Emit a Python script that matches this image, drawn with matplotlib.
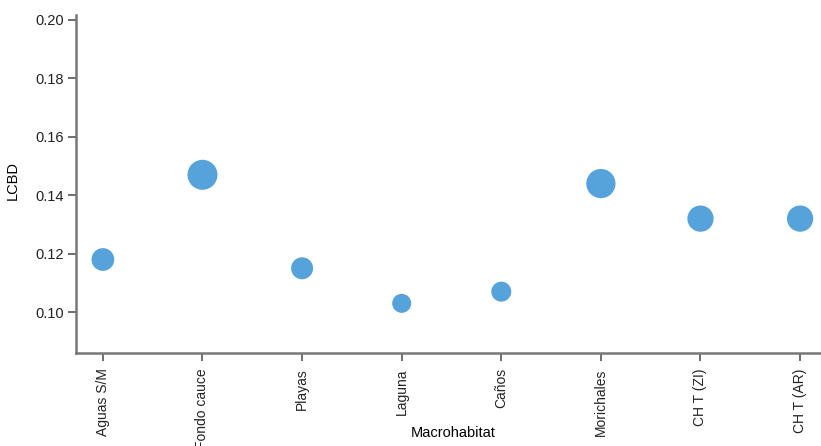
from matplotlib import pyplot as plt
import numpy as np

plt.rcParams["font.family"] = ["Liberation Sans", "DejaVu Sans"]

# 데이터
habitats = ["Aguas S/M", "Fondo cauce", "Playas", "Laguna", "Caños",
            "Morichales", "CH T (ZI)", "CH T (AR)"]
lcbd = [0.118, 0.147, 0.115, 0.103, 0.107, 0.144, 0.132, 0.132]
yticks = [0.10, 0.12, 0.14, 0.16, 0.18, 0.20]

W, H = 821, 446
fig = plt.figure(figsize=(W / 100, H / 100), dpi=100)
ax = fig.add_axes([76 / W, (H - 353) / H, (W - 76) / W, (353 - 15) / H])

x = np.arange(len(habitats))
vals = np.array(lcbd)
# 점 크기는 LCBD 값에 비례 (지름 px -> pt^2)
diam_px = 19 + (vals - vals.min()) * 250
sizes = (diam_px * 72 / 100) ** 2
ax.scatter(x, vals, s=sizes, color="#56a3dc", edgecolors="none", zorder=3)

ax.set_xlim(-0.27, 7.21)
ax.set_ylim(0.086, 0.2017)
ax.set_yticks(yticks)
ax.set_yticklabels([f"{v:.2f}" for v in yticks])
ax.set_xticks(x)
ax.set_xticklabels(habitats, rotation=90)

for side in ["top", "right"]:
    ax.spines[side].set_visible(False)
for side in ["left", "bottom"]:
    ax.spines[side].set_color("#777777")
    ax.spines[side].set_linewidth(1.8)
ax.tick_params(colors="#555555", labelcolor="#222222", labelsize=10.5,
               length=5.5, width=1.2)
ax.tick_params(axis="x", labelsize=10, pad=5.5)

ax.set_ylabel("LCBD", fontsize=10.5)
ax.yaxis.set_label_coords(-(76 - 13) / (W - 76), (353 - 181) / (353 - 15))
ax.yaxis.label.set_verticalalignment("center")
ax.set_xlabel("Macrohabitat", fontsize=10.5)
ax.xaxis.set_label_coords((453 - 76) / (W - 76), -(433 - 353) / (353 - 15))
ax.xaxis.label.set_verticalalignment("center")

plt.savefig("out.png", dpi=100)
plt.close()
